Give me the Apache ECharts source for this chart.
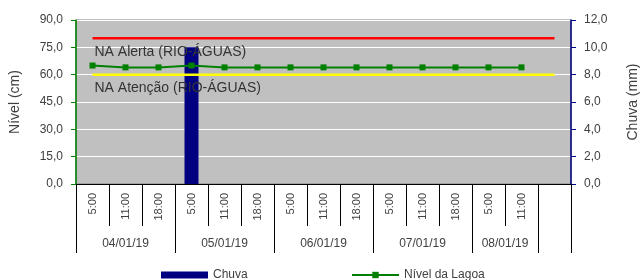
<!DOCTYPE html>
<html>
<head>
<meta charset="utf-8">
<script src="https://cdn.jsdelivr.net/npm/echarts@6/dist/echarts.min.js"></script>
<style>
  html, body { margin: 0; padding: 0; background: #fff; }
  #chart { width: 643px; height: 280px; }
</style>
</head>
<body>
<div id="chart"></div>
<script>
// horários de leitura (15 posições, a última vazia)
var horas = ['5:00', '11:00', '18:00', '5:00', '11:00', '18:00', '5:00', '11:00', '18:00',
             '5:00', '11:00', '18:00', '5:00', '11:00', ''];
// datas e quantas posições cada uma ocupa
var datas = ['04/01/19', '05/01/19', '06/01/19', '07/01/19', '08/01/19', ''];
var slotsPorData = [3, 3, 3, 3, 2, 1];

var chuva = [0, 0, 0, 10, 0, 0, 0, 0, 0, 0, 0, 0, 0, 0, 0];
var nivel = [65, 64, 64, 65, 64, 64, 64, 64, 64, 64, 64, 64, 64, 64, null];
var naAlerta = 80;
var naAtencao = 60;

var font = 'Liberation Sans, Arial, sans-serif';
var txt = '#404040';

// limites e centros de cada data no eixo de datas
var limites = [0], centros = [], acc = 0;
slotsPorData.forEach(function (n) {
    centros.push(acc + n / 2);
    acc += n;
    limites.push(acc);
});

function linhaRef(valor, nome) {
    return horas.map(function (h, i) {
        if (i === 0) {
            return {
                value: valor,
                label: {
                    show: true,
                    formatter: nome,
                    position: [2, 7],
                    color: '#333',
                    fontSize: 14,
                    fontFamily: font
                }
            };
        }
        return valor;
    });
}

var chart = echarts.init(document.getElementById('chart'));
chart.setOption({
    animation: false,
    textStyle: { fontFamily: font },
    grid: {
        left: 76, right: 72, top: 20, bottom: 96,
        outerBoundsMode: 'none',
        containLabel: false,
        show: true,
        backgroundColor: '#c0c0c0',
        borderColor: '#808080',
        borderWidth: 1
    },
    legend: [{
        data: ['Chuva'],
        left: 156, top: 264,
        icon: 'rect',
        itemWidth: 47, itemHeight: 7, itemGap: 4,
        textStyle: { fontSize: 12, color: txt, fontFamily: font }
    }, {
        data: ['Nível da Lagoa'],
        left: 346, top: 264,
        itemWidth: 47, itemHeight: 8, itemGap: 4,
        textStyle: { fontSize: 12, color: txt, fontFamily: font }
    }],
    xAxis: [{
        type: 'category',
        data: horas,
        position: 'bottom',
        axisLine: { lineStyle: { color: '#000', width: 1 } },
        axisTick: { show: true, interval: 0, length: 42, lineStyle: { color: '#000' } },
        axisLabel: { interval: 0, rotate: 90, margin: 9, fontSize: 11, color: txt, fontFamily: font },
        splitLine: { show: false }
    }, {
        type: 'value',
        min: 0, max: horas.length,
        position: 'bottom',
        offset: 42,
        axisLine: { show: true, lineStyle: { color: 'rgba(0,0,0,0)' } },
        splitLine: { show: false },
        axisTick: { show: true, customValues: limites, length: 27, lineStyle: { color: '#000' } },
        axisLabel: {
            customValues: centros,
            margin: 12,
            fontSize: 12,
            color: txt,
            fontFamily: font,
            formatter: function (v) {
                var i = centros.indexOf(v);
                return i >= 0 ? datas[i] : '';
            }
        }
    }, {
        // linhas divisórias entre as datas
        type: 'category',
        data: horas,
        position: 'bottom',
        offset: 42,
        axisLine: { show: false },
        splitLine: { show: false },
        axisLabel: { show: false },
        axisTick: {
            show: true,
            length: 27,
            lineStyle: { color: '#000' },
            interval: function (i) { return limites.indexOf(i) >= 0; }
        }
    }],
    yAxis: [{
        type: 'value',
        min: 0, max: 90, interval: 15,
        name: 'Nível (cm)',
        nameLocation: 'middle',
        nameGap: 54,
        nameTextStyle: { fontSize: 14, color: txt, fontFamily: font },
        axisLine: { show: true, lineStyle: { color: '#008000', width: 1.5 } },
        axisTick: { show: true, length: 5, lineStyle: { color: '#008000' } },
        axisLabel: {
            fontSize: 12, color: txt, margin: 13,
            formatter: function (v) { return v.toFixed(1).replace('.', ','); }
        },
        splitLine: { show: true, lineStyle: { color: '#ffffff', width: 1 } }
    }, {
        type: 'value',
        min: 0, max: 12, interval: 2,
        position: 'right',
        name: 'Chuva (mm)',
        nameLocation: 'middle',
        nameGap: 55,
        nameTextStyle: { fontSize: 14, color: txt, fontFamily: font },
        axisLine: { show: true, lineStyle: { color: '#000080', width: 1.5 } },
        axisTick: { show: true, length: 5, lineStyle: { color: '#000080' } },
        axisLabel: {
            fontSize: 12, color: txt, margin: 13,
            formatter: function (v) { return v.toFixed(1).replace('.', ','); }
        },
        splitLine: { show: false }
    }],
    series: [{
        name: 'Chuva',
        type: 'bar',
        yAxisIndex: 1,
        data: chuva,
        barWidth: 14,
        itemStyle: { color: '#000080' },
        z: 2
    }, {
        name: 'NA Alerta (RIO-ÁGUAS)',
        type: 'line',
        data: linhaRef(naAlerta, 'NA Alerta (RIO-ÁGUAS)'),
        symbol: 'circle',
        symbolSize: 0.1,
        itemStyle: { color: '#ff0000' },
        lineStyle: { color: '#ff0000', width: 2.5 },
        z: 3
    }, {
        name: 'NA Atenção (RIO-ÁGUAS)',
        type: 'line',
        data: linhaRef(naAtencao, 'NA Atenção (RIO-ÁGUAS)'),
        symbol: 'circle',
        symbolSize: 0.1,
        itemStyle: { color: '#ffff00' },
        lineStyle: { color: '#ffff00', width: 2.5 },
        z: 3
    }, {
        name: 'Nível da Lagoa',
        type: 'line',
        data: nivel,
        symbol: 'rect',
        symbolSize: 6,
        itemStyle: { color: '#008000' },
        lineStyle: { color: '#008000', width: 2 },
        z: 4
    }]
});
</script>
</body>
</html>
